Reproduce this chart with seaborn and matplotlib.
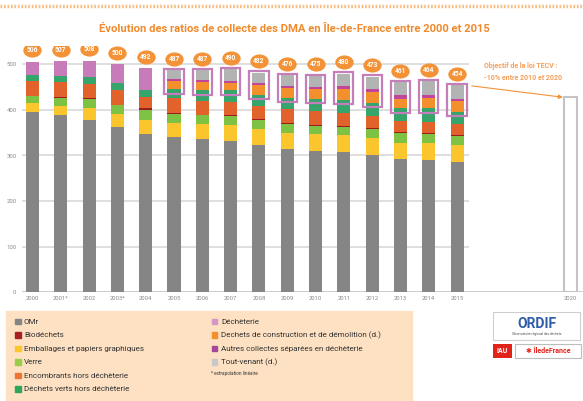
"""
Évolution des ratios de collecte des DMA en Île-de-France (2000-2015)
Stacked bars per year + 2020 TECV objective
"""

import pandas as pd
import numpy as np
import matplotlib.pyplot as plt
import seaborn as sns
from matplotlib.patches import Rectangle
from matplotlib.lines import Line2D
from matplotlib.path import Path
from matplotlib.transforms import Affine2D

# ---- data (kg/hab/an) ----
years = ["2000", "2001*", "2002", "2003*", "2004", "2005", "2006", "2007",
         "2008", "2009", "2010", "2011", "2012", "2013", "2014", "2015"]
totals = [506, 507, 508, 500, 492, 487, 487, 490, 482, 476, 475, 480, 473, 461, 464, 454]

omr = [396, 388, 377, 363, 347, 341, 336, 332, 322, 314, 310, 308, 301, 292, 290, 286]
emballages = [20, 21, 27, 28, 30, 30, 33, 35, 36, 36, 38, 37, 37, 36, 37, 37]
verre = [14, 18, 21, 20, 24, 20, 19, 19, 20, 19, 17, 18, 20, 21, 20, 20]
biodechets = [1, 1, 1, 1, 3, 2, 2, 2, 2, 2, 2, 2, 2, 2, 2, 2]
encombrants = [33, 33, 31, 32, 25, 33, 30, 30, 28, 31, 31, 28, 27, 24, 25, 24]
dechets_verts = [14, 14, 15, 15, 14, 20, 24, 25, 26, 25, 27, 30, 29, 29, 30, 27]
decheterie = [28, 32, 36, 41, 49, 0, 0, 0, 0, 0, 0, 0, 0, 0, 0, 0]
construction = [0, 0, 0, 0, 0, 18, 18, 17, 21, 22, 21, 24, 24, 20, 22, 24]
autres = [0, 0, 0, 0, 0, 4, 4, 4, 5, 4, 5, 5, 6, 9, 8, 5]
tout_venant = [0, 0, 0, 0, 0, 19, 21, 26, 22, 23, 24, 28, 27, 28, 30, 29]

objective_year = "2020"
objective_value = 428

# stacking order, bottom to top
layers = [
    ("OMr", omr, "#858585"),
    ("Emballages et papiers graphiques", emballages, "#fbc52d"),
    ("Verre", verre, "#7dc242"),
    ("Biodéchets", biodechets, "#9b1c1f"),
    ("Encombrants hors déchèterie", encombrants, "#e2622b"),
    ("Déchets verts hors déchèterie", dechets_verts, "#35a56c"),
    ("Déchèterie", decheterie, "#c77cb9"),
    ("Dechets de construction et de démolition (d.)", construction, "#f48f2e"),
    ("Autres collectes séparées en déchèterie", autres, "#c0459c"),
    ("Tout-venant (d.)", tout_venant, "#b2b4b4"),
]

legend_col1 = [("OMr", "#858585"), ("Biodéchets", "#a81f24"),
               ("Emballages et papiers graphiques", "#fbc52d"), ("Verre", "#9acd4a"),
               ("Encombrants hors déchèterie", "#ee7434"),
               ("Déchets verts hors déchèterie", "#2fa55a")]
legend_col2 = [("Déchèterie", "#d596c8"),
               ("Dechets de construction et de démolition (d.)", "#f48f2e"),
               ("Autres collectes séparées en déchèterie", "#a3499b"),
               ("Tout-venant (d.)", "#c8c8c8")]

ORANGE = "#f39237"
W, H = 583, 401

sns.set_style("white")
plt.rcParams['font.family'] = ['Roboto', 'DejaVu Sans']


def fx(x):
    return x / W


def fy(y):
    return 1 - y / H


fig = plt.figure(figsize=(W / 100, H / 100), dpi=100)
# value 0 at y=292px, 0.455 px per unit; ylim 0..540
ymax = 540
ax = fig.add_axes([fx(22), fy(292), fx(561), 0.455 * ymax / H])

order = years + [" ", "  ", "   ", objective_year]
cum = np.zeros(len(years))
cums = []
for name, vals, color in layers:
    cum = cum + np.array(vals)
    cums.append((name, cum.copy(), color))

# grid lines (only over the data part) + baseline
for v in [100, 200, 300, 400, 500]:
    ax.hlines(v, -0.4, 15.42, color="#dcdcdc", lw=1.3, zorder=0)
ax.axhline(0, color="#c4c4c4", lw=1.2, zorder=0)

# draw tallest cumulative first, smaller ones on top
for name, top, color in reversed(cums):
    sns.barplot(x=years, y=top, order=order, color=color, saturation=1,
                width=0.46, errorbar=None, linewidth=0, ax=ax, zorder=2)

# 2020 objective bar
sns.barplot(x=[objective_year], y=[objective_value], order=order, color="white",
            saturation=1, width=0.46, errorbar=None, edgecolor="#c4c4c4",
            linewidth=1.5, ax=ax, zorder=2)

# highlight boxes around déchèterie breakdown (2005+)
base_dv = cums[5][1]
for i in range(5, len(years)):
    ax.add_patch(Rectangle((i - 0.34, base_dv[i] - 10), 0.68, totals[i] + 3 - (base_dv[i] - 10),
                           fill=False, ec="#c47fba", lw=1.6, zorder=3))

# total labels in orange ellipses
ell = Path.unit_circle().transformed(Affine2D().scale(1.3, 1.0))
xs = np.arange(len(years))
ax.scatter(xs, np.array(totals) + 25, marker=ell, s=175, color=ORANGE, zorder=4, linewidths=0)
for i, t in enumerate(totals):
    ax.text(i, t + 25, str(t), ha="center", va="center", color="white",
            fontsize=4.8, fontweight="bold", zorder=5)

# objective annotation
ax.annotate("", xy=(19 - 0.26, objective_value), xytext=(15.52, 453),
            arrowprops=dict(arrowstyle="-|>", color=ORANGE, lw=0.8,
                            mutation_scale=6, shrinkA=0, shrinkB=0))
ax.text(15.95, 506, "Objectif de la loi TECV :\n-10% entre 2010 et 2020", ha="left", va="top",
        fontsize=5, fontweight="bold", color="#f5a05c", linespacing=1.7)

ax.set_xlim(-0.37, 19.45)
ax.set_ylim(0, ymax)
ax.set_yticks([0, 100, 200, 300, 400, 500])
ax.set_xticks(range(len(order)))
ax.set_xticklabels(order)
ax.tick_params(axis="y", length=0, pad=4, labelsize=4.3, labelcolor="#8a8a8a")
ax.tick_params(axis="x", length=0, pad=3, labelsize=4.2, labelcolor="#8a8a8a")
ax.set_xlabel("")
ax.set_ylabel("")
sns.despine(ax=ax, left=True, bottom=True)
ax.patch.set_alpha(0)

# title and dotted top rule
fig.text(fx(294), fy(29), "Évolution des ratios de collecte des DMA en Île-de-France entre 2000 et 2015",
         ha="center", va="center", fontsize=8.1, fontweight="bold", color="#f08a2c")
fig.add_artist(Line2D([0, 1], [fy(6), fy(6)], transform=fig.transFigure,
                      color="#f8bd85", lw=2.5, linestyle=(0, (0.5, 0.5))))

# legend panel
fig.add_artist(Rectangle((fx(6), 0), fx(406), fy(311), transform=fig.transFigure,
                         color="#fde1c2", zorder=0))
rows = [321.5, 335, 348.5, 362, 375.5, 389]
for (lab, c), y in zip(legend_col1, rows):
    fig.add_artist(Rectangle((fx(15.3), fy(y + 2.7)), fx(5.4), 5.4 / H,
                             transform=fig.transFigure, color=c))
    fig.text(fx(24), fy(y), lab, ha="left", va="center", fontsize=5.8, color="#333333")
for (lab, c), y in zip(legend_col2, rows):
    fig.add_artist(Rectangle((fx(211.7), fy(y + 2.7)), fx(5.4), 5.4 / H,
                             transform=fig.transFigure, color=c))
    fig.text(fx(221), fy(y), lab, ha="left", va="center", fontsize=5.8, color="#333333")
fig.text(fx(211), fy(374), "* extrapolation linéaire", ha="left", va="center",
         fontsize=3.3, color="#333333")

# logos
fig.add_artist(Rectangle((fx(493), fy(340)), fx(87), 28 / H, transform=fig.transFigure,
                         fc="white", ec="#cfcfcf", lw=0.8))
fig.text(fx(537), fy(324), "ORDIF", ha="center", va="center", fontsize=10,
         fontweight="bold", color="#2f5ca6")
fig.text(fx(537), fy(334.5), "Observatoire régional des déchets", ha="center", va="center",
         fontsize=2.3, color="#555555")
fig.add_artist(Rectangle((fx(493), fy(358)), fx(19), 14 / H, transform=fig.transFigure,
                         fc="#e2231a", ec="none"))
fig.text(fx(502.5), fy(351), "IAU", ha="center", va="center", fontsize=5,
         fontweight="bold", color="white")
fig.add_artist(Rectangle((fx(515), fy(358)), fx(66), 14 / H, transform=fig.transFigure,
                         fc="white", ec="#bdbdbd", lw=0.8))
fig.text(fx(548), fy(351), "✱ ÎledeFrance", ha="center", va="center", fontsize=5,
         fontweight="bold", color="#e2231a")

plt.savefig("out.png", dpi=100)
